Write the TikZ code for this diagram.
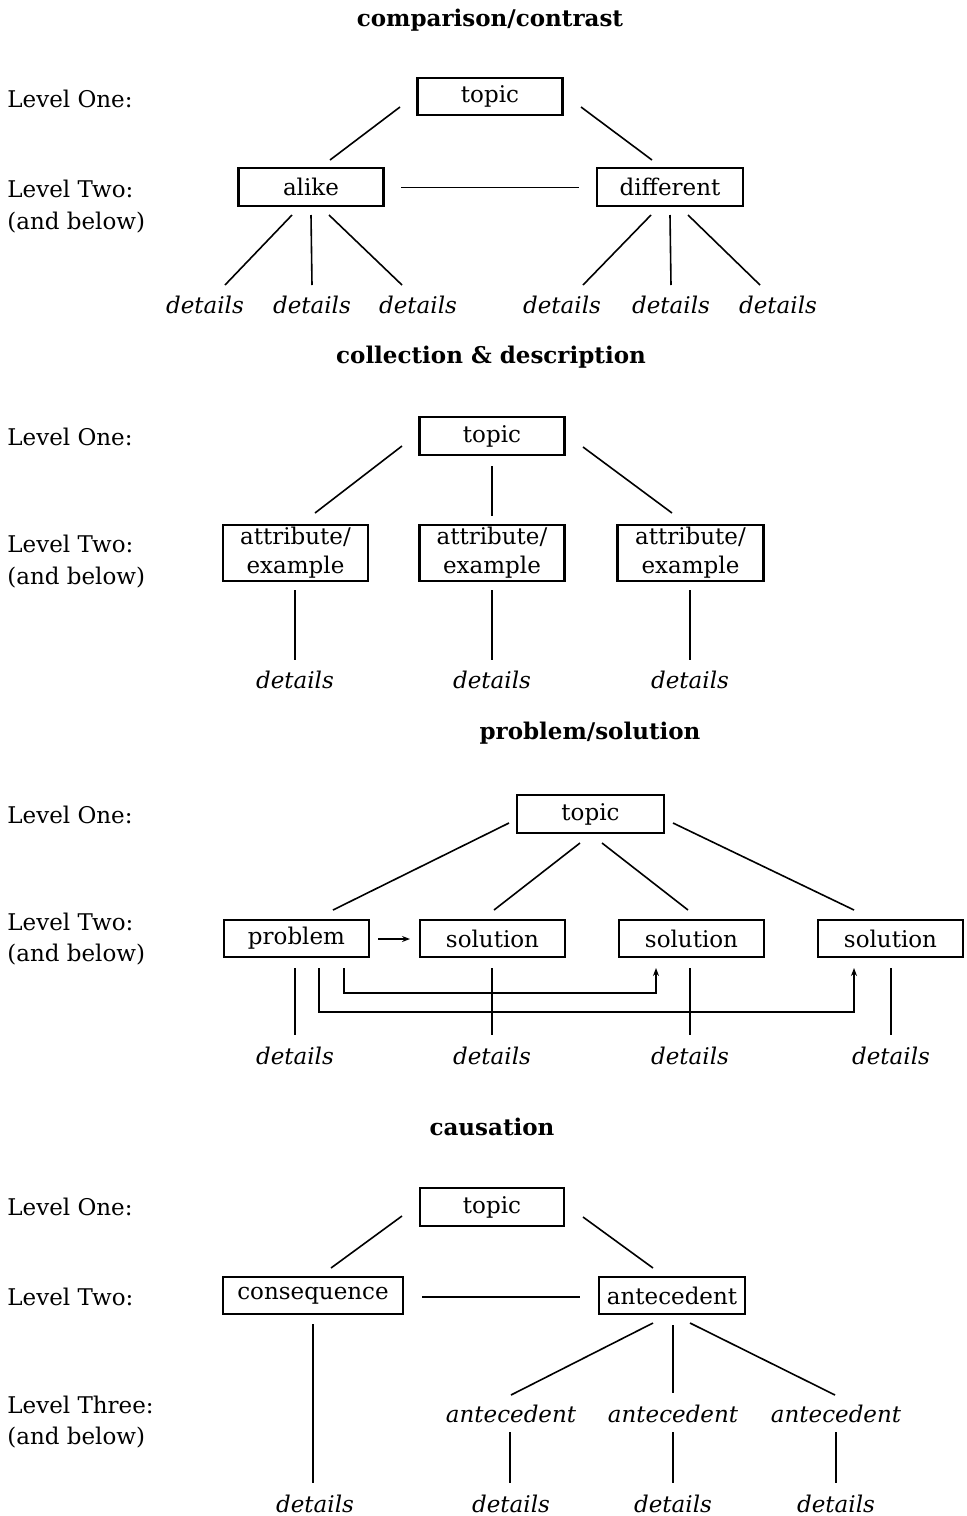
\documentclass[tikz,border=0pt]{standalone}
\usepackage{fontspec}
\setmainfont{DejaVu Serif}
\usetikzlibrary{arrows.meta}
\begin{document}
\begin{tikzpicture}[x=0.5pt,y=-0.5pt,
  txt/.style={font=\fontsize{11.5}{14.5}\selectfont, inner sep=0pt},
  ttl/.style={txt, font=\fontsize{11.5}{14.5}\selectfont\bfseries, anchor=base},
  lvl/.style={txt, anchor=base west},
  leaf/.style={txt, font=\fontsize{11.5}{14.5}\selectfont\itshape, anchor=base},
  box/.style={txt, draw, line width=1.1pt, minimum height=18.5pt, minimum width=72.5pt, align=center},
  link/.style={line width=0.8pt},
  tip/.style={link, -{Stealth[length=4pt,width=3pt]}}
]
\useasboundingbox (0,0) rectangle (966,1516);

% ---------------- comparison / contrast ----------------
\node[ttl] (h1) at (490,26) {comparison/contrast};
\node[lvl] (l1a) at (7,107) {Level One:};
\node[lvl] (l1b) at (7,197) {Level Two:};
\node[lvl] (l1c) at (7,229) {(and below)};
\node[box] (topA) at (490,96.5) {topic};
\node[box, minimum height=19pt] (alike) at (311,187) {alike};
\node[box, minimum height=19pt, minimum width=73pt] (diff) at (670,187) {different};
\node[leaf] (dA1) at (205,313) {details};
\node[leaf] (dA2) at (312,313) {details};
\node[leaf] (dA3) at (418,313) {details};
\node[leaf] (dA4) at (562,313) {details};
\node[leaf] (dA5) at (671,313) {details};
\node[leaf] (dA6) at (778,313) {details};

\draw[link] ([shift={(-90,10.5)}]topA.center) -- ([shift={(19,-27)}]alike.center);
\draw[link] ([shift={(91,10.5)}]topA.center) -- ([shift={(-18,-27)}]diff.center);
\draw[link] ([shift={(90,0.5)}]alike.center) -- ([shift={(-91,0.5)}]diff.center);
\draw[link] ([shift={(-19,28)}]alike.center) -- ([shift={(20,-28)}]dA1.base);
\draw[link] ([shift={(0,28)}]alike.center) -- ([shift={(0,-28)}]dA2.base);
\draw[link] ([shift={(18,28)}]alike.center) -- ([shift={(-16,-28)}]dA3.base);
\draw[link] ([shift={(-19,28)}]diff.center) -- ([shift={(21,-28)}]dA4.base);
\draw[link] ([shift={(0,28)}]diff.center) -- ([shift={(0,-28)}]dA5.base);
\draw[link] ([shift={(18,28)}]diff.center) -- ([shift={(-18,-28)}]dA6.base);

% ---------------- collection & description ----------------
\node[ttl] (h2) at (491,363) {collection \& description};
\node[lvl] (l2a) at (7,445) {Level One:};
\node[lvl] (l2b) at (7,552) {Level Two:};
\node[lvl] (l2c) at (7,584) {(and below)};
\node[box, minimum height=19pt] (topB) at (492,436) {topic};
\node[box, minimum height=28pt] (at1) at (295.5,553) {attribute/\\example};
\node[box, minimum height=28pt] (at2) at (492,553) {attribute/\\example};
\node[box, minimum height=28pt, minimum width=73pt] (at3) at (690.5,553) {attribute/\\example};
\node[leaf] (dB1) at (295,688) {details};
\node[leaf] (dB2) at (492,688) {details};
\node[leaf] (dB3) at (690,688) {details};

\draw[link] ([shift={(-90,10)}]topB.center) -- ([shift={(19.5,-40)}]at1.center);
\draw[link] ([shift={(0,30)}]topB.center) -- ([shift={(0,-37)}]at2.center);
\draw[link] ([shift={(91,11)}]topB.center) -- ([shift={(-18.5,-40)}]at3.center);
\draw[link] ([shift={(-0.5,37)}]at1.center) -- ([shift={(0,-28)}]dB1.base);
\draw[link] ([shift={(0,37)}]at2.center) -- ([shift={(0,-28)}]dB2.base);
\draw[link] ([shift={(-0.5,37)}]at3.center) -- ([shift={(0,-28)}]dB3.base);

% ---------------- problem / solution ----------------
\node[ttl] (h3) at (590,739) {problem/solution};
\node[lvl] (l3a) at (7,823) {Level One:};
\node[lvl] (l3b) at (7,930) {Level Two:};
\node[lvl] (l3c) at (7,961) {(and below)};
\node[box, minimum height=19pt, minimum width=73.5pt] (topC) at (590.5,814) {topic};
\node[box] (prob) at (296.5,938.5) {problem};
\node[box] (sol1) at (492.5,938.5) {solution};
\node[box] (sol2) at (691.5,938.5) {solution};
\node[box] (sol3) at (890.5,938.5) {solution};
\node[leaf] (dC1) at (295,1064) {details};
\node[leaf] (dC2) at (492,1064) {details};
\node[leaf] (dC3) at (690,1064) {details};
\node[leaf] (dC4) at (891,1064) {details};

\draw[link] ([shift={(-81.5,9)}]topC.center) -- ([shift={(36.5,-28.5)}]prob.center);
\draw[link] ([shift={(-10.5,29)}]topC.center) -- ([shift={(1.5,-28.5)}]sol1.center);
\draw[link] ([shift={(11.5,29)}]topC.center) -- ([shift={(-3.5,-28.5)}]sol2.center);
\draw[link] ([shift={(82.5,9)}]topC.center) -- ([shift={(-36.5,-28.5)}]sol3.center);
\draw[tip] ([shift={(81.5,0.5)}]prob.center) -- ([shift={(-82.5,0.5)}]sol1.center);
\draw[link] ([shift={(-1.5,29.5)}]prob.center) -- ([shift={(0,-29)}]dC1.base);
\draw[link] ([shift={(-0.5,29.5)}]sol1.center) -- ([shift={(0,-29)}]dC2.base);
\draw[link] ([shift={(-1.5,29.5)}]sol2.center) -- ([shift={(0,-29)}]dC3.base);
\draw[link] ([shift={(0.5,29.5)}]sol3.center) -- ([shift={(0,-29)}]dC4.base);
\draw[tip] ([shift={(47.5,29.5)}]prob.center) -- ++(0,25) -| ([shift={(-35.5,29.5)}]sol2.center);
\draw[tip] ([shift={(22.5,29.5)}]prob.center) -- ++(0,44) -| ([shift={(-36.5,29.5)}]sol3.center);

% ---------------- causation ----------------
\node[ttl] (h4) at (492,1135) {causation};
\node[lvl] (l4a) at (7,1215) {Level One:};
\node[lvl] (l4b) at (7,1305) {Level Two:};
\node[lvl] (l4c) at (7,1413) {Level Three:};
\node[lvl] (l4d) at (7,1444) {(and below)};
\node[box, minimum height=19pt, minimum width=72pt] (topD) at (492,1207) {topic};
\node[box, minimum width=90pt] (cons) at (313,1295.5) {consequence};
\node[box, minimum width=73pt] (ante) at (672,1295.5) {antecedent};
\node[leaf] (aL1) at (511,1422) {antecedent};
\node[leaf] (aL2) at (673,1422) {antecedent};
\node[leaf] (aL3) at (836,1422) {antecedent};
\node[leaf] (dD1) at (315,1512) {details};
\node[leaf] (dD2) at (511,1512) {details};
\node[leaf] (dD3) at (673,1512) {details};
\node[leaf] (dD4) at (836,1512) {details};

\draw[link] ([shift={(-90,9)}]topD.center) -- ([shift={(18,-27.5)}]cons.center);
\draw[link] ([shift={(91,10)}]topD.center) -- ([shift={(-19,-27.5)}]ante.center);
\draw[link] ([shift={(109,1.5)}]cons.center) -- ([shift={(-92,1.5)}]ante.center);
\draw[link] ([shift={(0,28.5)}]cons.center) -- ([shift={(-2,-29)}]dD1.base);
\draw[link] ([shift={(-19,27.5)}]ante.center) -- ([shift={(0,-27)}]aL1.base);
\draw[link] ([shift={(1,29.5)}]ante.center) -- ([shift={(0,-29)}]aL2.base);
\draw[link] ([shift={(18,27.5)}]ante.center) -- ([shift={(-1,-27)}]aL3.base);
\draw[link] ([shift={(-1,10)}]aL1.base) -- ([shift={(-1,-29)}]dD2.base);
\draw[link] ([shift={(0,10)}]aL2.base) -- ([shift={(0,-29)}]dD3.base);
\draw[link] ([shift={(0,10)}]aL3.base) -- ([shift={(0,-29)}]dD4.base);
\end{tikzpicture}
\end{document}
